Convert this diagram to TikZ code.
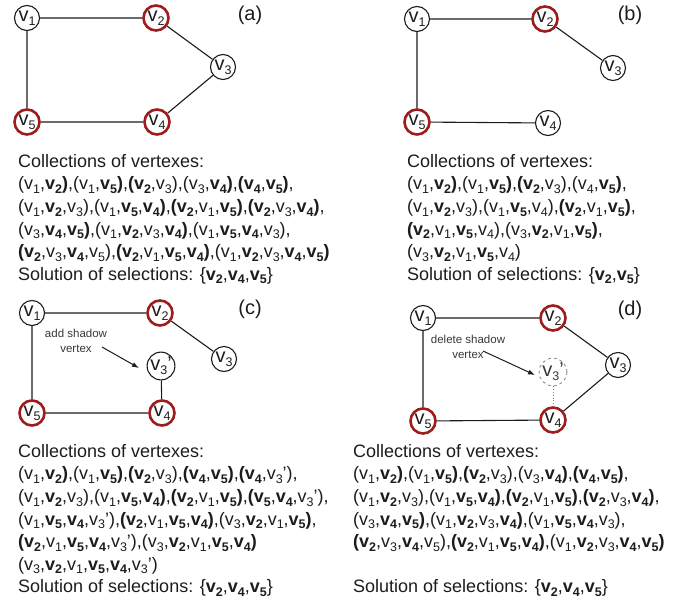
\documentclass[tikz,border=0pt]{standalone}
\usepackage{fontspec}
\setmainfont{Liberation Sans}
\usetikzlibrary{arrows.meta}
\definecolor{Ring}{HTML}{9E1C1C}
\definecolor{Ink}{HTML}{1C1C1C}
\definecolor{Note}{HTML}{383838}
\newcommand\pv[1]{v\raisebox{-0.2em}{\fontsize{12.5}{12.5}\selectfont#1}}
\newcommand\sv[1]{\textbf{\pv{#1}}}
\newcommand\blp{\textbf{(}}
\newcommand\brp{\textbf{)}}

\begin{document}
\begin{tikzpicture}[x=1pt,y=-1pt,
  every node/.style={text=Ink,font=\fontsize{18}{22.6}\selectfont},
  vtx/.style={circle,draw=Ink,line width=1.1pt,minimum size=25pt,inner sep=0pt,font=\fontsize{20}{20}\selectfont},
  sel/.style={vtx,draw=Ring,line width=2.6pt},
  ghost/.style={vtx,draw=gray,line width=0.8pt,dashed,text=Note},
  link/.style={Ink,line width=1.1pt},
  txt/.style={anchor=north west,align=left,inner sep=0pt},
  panel/.style={font=\fontsize{20}{24}\selectfont},
  hint/.style={align=center,text=Note,font=\fontsize{11.5}{15}\selectfont},
  pointer/.style={Ink,line width=1pt,-{Latex[length=7pt,width=5pt]}}]
\useasboundingbox (0,0) rectangle (683,603);
% (a)
\node[vtx] (a1) at (27,18) {\pv1}; \node[sel] (a2) at (156,18) {\pv2};
\node[vtx] (a3) at (223,67) {\pv3}; \node[sel] (a4) at (157,122) {\pv4};
\node[sel] (a5) at (27,122) {\pv5};
\draw[link] (a1)--(a2) (a2)--(a3) (a3)--(a4) (a4)--(a5) (a5)--(a1);
\node[panel] (la) at (250,15) {(a)};
\node[txt] (ta) at (18,153) {\rule{0pt}{14pt}Collections of vertexes:\\
(\pv1,\sv2\brp,(\pv1,\sv5\brp,\blp\sv2,\pv3),(\pv3,\sv4\brp,\blp\sv4,\sv5\brp,\\
(\pv1,\sv2,\pv3),(\pv1,\sv5,\sv4\brp,\blp\sv2,\pv1,\sv5\brp,\blp\sv2,\pv3,\sv4\brp,\\
(\pv3,\sv4,\sv5\brp,(\pv1,\sv2,\pv3,\sv4\brp,(\pv1,\sv5,\sv4,\pv3),\\
\blp\sv2,\pv3,\sv4,\pv5),\blp\sv2,\pv1,\sv5,\sv4\brp,(\pv1,\sv2,\pv3,\sv4,\sv5\brp\\
Solution of selections: \{\sv2,\sv4,\sv5\}};
% (b)
\node[vtx] (b1) at (417,19) {\pv1}; \node[sel] (b2) at (545,19) {\pv2};
\node[vtx] (b3) at (613,68) {\pv3}; \node[vtx] (b4) at (548,123) {\pv4};
\node[sel] (b5) at (417,122) {\pv5};
\draw[link] (b1)--(b2) (b2)--(b3) (b4)--(b5) (b5)--(b1);
\node[panel] (lb) at (630,15) {(b)};
\node[txt] (tb) at (407,153) {\rule{0pt}{14pt}Collections of vertexes:\\
(\pv1,\sv2\brp,(\pv1,\sv5\brp,\blp\sv2,\pv3),(\pv4,\sv5\brp,\\
(\pv1,\sv2,\pv3),(\pv1,\sv5,\pv4),\blp\sv2,\pv1,\sv5\brp,\\
\blp\sv2,\pv1,\sv5,\pv4),(\pv3,\sv2,\pv1,\sv5\brp,\\
(\pv3,\sv2,\pv1,\sv5,\pv4)\\
Solution of selections: \{\sv2,\sv5\}};
% (c)
\node[vtx] (c1) at (32,313) {\pv1}; \node[sel] (c2) at (160,313) {\pv2};
\node[vtx] (c3) at (224,359) {\pv3}; \node[vtx] (c3s) at (161,366) {\pv3'};
\node[sel] (c4) at (162,413) {\pv4}; \node[sel] (c5) at (32,413) {\pv5};
\draw[link] (c1)--(c2) (c2)--(c3) (c3s)--(c4) (c4)--(c5) (c5)--(c1);
\node[panel] (lc) at (250,309) {(c)};
\node[hint] (nc) at (76,341) {add shadow\\vertex};
\coordinate (ca) at (102,347); \coordinate (cb) at (139,368);
\draw[pointer] (ca)--(cb);
\node[txt] (tc) at (18,443) {\rule{0pt}{14pt}Collections of vertexes:\\
(\pv1,\sv2\brp,(\pv1,\sv5\brp,\blp\sv2,\pv3),\blp\sv4,\sv5\brp,\blp\sv4,\pv3'),\\
(\pv1,\sv2,\pv3),(\pv1,\sv5,\sv4\brp,\blp\sv2,\pv1,\sv5\brp,\blp\sv5,\sv4,\pv3'),\\
(\pv1,\sv5,\sv4,\pv3'),\blp\sv2,\pv1,\sv5,\sv4\brp,(\pv3,\sv2,\pv1,\sv5\brp,\\
\blp\sv2,\pv1,\sv5,\sv4,\pv3'),(\pv3,\sv2,\pv1,\sv5,\sv4\brp\\
(\pv3,\sv2,\pv1,\sv5,\sv4,\pv3')\\
Solution of selections: \{\sv2,\sv4,\sv5\}};
% (d)
\node[vtx] (d1) at (423,318) {\pv1}; \node[sel] (d2) at (553,318) {\pv2};
\node[vtx] (d3) at (618,365) {\pv3}; \node[ghost] (d3s) at (553,372) {\pv3'};
\node[sel] (d4) at (553,420) {\pv4}; \node[sel] (d5) at (423,421) {\pv5};
\draw[link] (d1)--(d2) (d2)--(d3) (d3)--(d4) (d4)--(d5) (d5)--(d1);
\draw[gray,dotted,line width=0.8pt] (d3s)--(d4);
\node[panel] (ld) at (630,310) {(d)};
\node[hint] (nd) at (468,347) {delete shadow\\vertex};
\coordinate (da) at (483,351); \coordinate (db) at (535,375);
\draw[pointer] (da)--(db);
\node[txt] (td) at (353,443) {\rule{0pt}{14pt}Collections of vertexes:\\
(\pv1,\sv2\brp,(\pv1,\sv5\brp,\blp\sv2,\pv3),(\pv3,\sv4\brp,\blp\sv4,\sv5\brp,\\
(\pv1,\sv2,\pv3),(\pv1,\sv5,\sv4\brp,\blp\sv2,\pv1,\sv5\brp,\blp\sv2,\pv3,\sv4\brp,\\
(\pv3,\sv4,\sv5\brp,(\pv1,\sv2,\pv3,\sv4\brp,(\pv1,\sv5,\sv4,\pv3),\\
\blp\sv2,\pv3,\sv4,\pv5),\blp\sv2,\pv1,\sv5,\sv4\brp,(\pv1,\sv2,\pv3,\sv4,\sv5\brp\\[22.6pt]
Solution of selections: \{\sv2,\sv4,\sv5\}};
\end{tikzpicture}
\end{document}
